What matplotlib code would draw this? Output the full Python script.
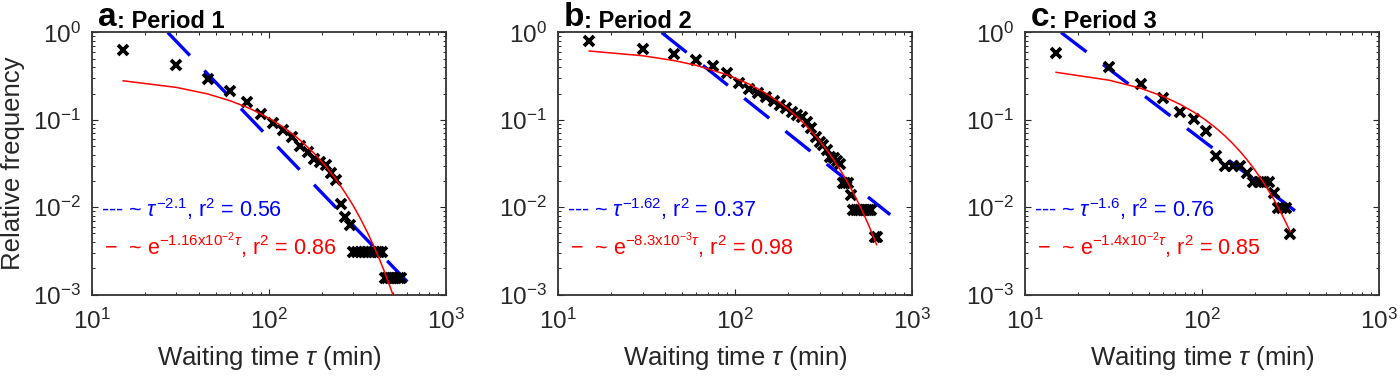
import matplotlib
matplotlib.use("Agg")
import matplotlib.pyplot as plt
from matplotlib.ticker import LogLocator, NullFormatter

plt.rcParams['font.family'] = ['Liberation Sans', 'DejaVu Sans']
plt.rcParams['mathtext.fontset'] = 'custom'
plt.rcParams['mathtext.rm'] = 'Liberation Sans'
plt.rcParams['mathtext.it'] = 'Liberation Sans:italic'
plt.rcParams['mathtext.bf'] = 'Liberation Sans:bold'
plt.rcParams['lines.scale_dashes'] = False

# ---- datos ----
# Periodo 1
p1_t = [15, 30, 45, 60, 75, 90, 105, 120, 135, 150, 165, 180, 195, 210, 225, 240,
        255, 270, 285,
        300, 315, 330, 345, 360, 375, 390, 405, 420, 435,
        450, 465, 480, 495, 510, 525, 540, 555]
p1_f = [0.63, 0.42, 0.295, 0.215, 0.161, 0.118, 0.093, 0.077, 0.064, 0.0505, 0.043,
        0.0352, 0.0326, 0.0303, 0.0244, 0.0204, 0.0109, 0.0078, 0.0063,
        0.0031, 0.0031, 0.0031, 0.0031, 0.0031, 0.0031, 0.0031, 0.0031, 0.0031, 0.0031,
        0.00155, 0.00155, 0.00155, 0.00155, 0.00155, 0.00155, 0.00155, 0.00155]
p1_pow_t = [26.8, 604]
p1_pow_f = [1.0, 0.0014]
p1_exp_t = [15, 30, 45, 60, 75, 90, 105, 120, 135, 150, 180, 210, 240, 270, 300,
            330, 360, 390, 420, 450, 480, 510, 540]
p1_exp_f = [0.280, 0.235, 0.198, 0.166, 0.1395, 0.117, 0.0985, 0.0828, 0.0696, 0.0584,
            0.0413, 0.0291, 0.0206, 0.0145, 0.0103, 0.00725, 0.00512, 0.00361, 0.00255,
            0.00180, 0.00127, 0.00090, 0.00063]

# Periodo 2
p2_t = [15, 30, 45, 60, 75, 90, 105, 120, 135, 150, 165, 180, 195, 210, 225, 240,
        255, 270, 285, 300, 315, 330, 345, 360, 375, 390,
        405, 420, 435, 450,
        465, 480, 495, 510, 525, 540, 555, 570, 585,
        615, 630]
p2_f = [0.80, 0.64, 0.56, 0.485, 0.415, 0.345, 0.267, 0.224, 0.201, 0.181, 0.166,
        0.148, 0.136, 0.124, 0.115, 0.107, 0.095, 0.080, 0.064, 0.056, 0.052, 0.045,
        0.038, 0.037, 0.034, 0.031,
        0.0188, 0.0188, 0.0188, 0.0138,
        0.0092, 0.0092, 0.0092, 0.0092, 0.0092, 0.0092, 0.0092, 0.0092, 0.0092,
        0.0046, 0.0046]
p2_pow_t = [38.5, 752]
p2_pow_f = [1.0, 0.0082]
p2_exp_t = [15, 30, 45, 60, 90, 120, 150, 180, 210, 240, 270, 300, 330, 360, 390,
            420, 450, 480, 510, 540, 570, 600, 630]
p2_exp_f = [0.614, 0.542, 0.478, 0.422, 0.329, 0.257, 0.200, 0.156, 0.1216, 0.0948,
            0.0739, 0.0576, 0.0449, 0.0350, 0.0273, 0.0213, 0.0166, 0.0129, 0.0101,
            0.00786, 0.00613, 0.00477, 0.00373]

# Periodo 3
p3_t = [15, 30, 45, 60, 75, 90, 105, 120, 135, 150, 165, 180, 195, 210, 225, 240,
        255, 270, 285, 300, 315]
p3_f = [0.59, 0.40, 0.256, 0.177, 0.123, 0.103, 0.074, 0.039, 0.0296, 0.0296, 0.0296,
        0.0245, 0.0196, 0.0196, 0.0196, 0.0196, 0.0147, 0.0098, 0.0098, 0.0098, 0.0049]
p3_pow_t = [16.0, 335]
p3_pow_f = [1.0, 0.0091]
p3_exp_t = [15, 30, 45, 60, 75, 90, 105, 120, 135, 150, 165, 180, 195, 210, 225, 240,
            255, 270, 285, 300, 315]
p3_exp_f = [0.350, 0.284, 0.230, 0.1865, 0.151, 0.1225, 0.0993, 0.0805, 0.0653, 0.0529,
            0.0429, 0.0348, 0.0282, 0.0228, 0.0185, 0.0150, 0.0122, 0.00986, 0.0080,
            0.00648, 0.00525]

letras = ['a', 'b', 'c']
titulos = [': Period 1', ': Period 2', ': Period 3']
txt_pow = [r'--- ~ $\tau^{-2.1}$, r$^2$ = 0.56',
           r'--- ~ $\tau^{-1.62}$, r$^2$ = 0.37',
           r'--- ~ $\tau^{-1.6}$, r$^2$ = 0.76']
txt_exp = ['\u2212  ~ e$^{-1.16\\mathrm{x}10^{-2}\\tau}$, r$^2$ = 0.86',
           '\u2212  ~ e$^{-8.3\\mathrm{x}10^{-3}\\tau}$, r$^2$ = 0.98',
           '\u2212  ~ e$^{-1.4\\mathrm{x}10^{-2}\\tau}$, r$^2$ = 0.85']

datos = [(p1_t, p1_f, p1_pow_t, p1_pow_f, p1_exp_t, p1_exp_f),
         (p2_t, p2_f, p2_pow_t, p2_pow_f, p2_exp_t, p2_exp_f),
         (p3_t, p3_f, p3_pow_t, p3_pow_f, p3_exp_t, p3_exp_f)]

gris = '#262626'
fig = plt.figure(figsize=(14, 3.77), dpi=100)
lefts = [0.0657, 0.3986, 0.7321]

for i, (t, f, pt, pf, et, ef) in enumerate(datos):
    ax = fig.add_axes([lefts[i], 0.2188, 0.2529, 0.695])
    ax.set_xscale('log')
    ax.set_yscale('log')

    ax.plot(t, f, linestyle='none', marker='x', color='k', markersize=7.5, markeredgewidth=2.7,
            zorder=3)
    ax.plot(pt, pf, color='#0000ff', linewidth=2.4, dashes=(23, 15), zorder=2)
    ax.plot(et, ef, color='#ff0000', linewidth=1.1, zorder=4)

    ax.set_xlim(10, 1000)
    ax.set_ylim(1e-3, 1)
    ax.xaxis.set_major_locator(LogLocator(base=10, numticks=5))
    ax.yaxis.set_major_locator(LogLocator(base=10, numticks=5))
    ax.xaxis.set_minor_locator(LogLocator(base=10, subs=range(2, 10), numticks=20))
    ax.yaxis.set_minor_locator(LogLocator(base=10, subs=range(2, 10), numticks=20))
    ax.xaxis.set_minor_formatter(NullFormatter())
    ax.yaxis.set_minor_formatter(NullFormatter())

    ax.tick_params(which='both', direction='in', top=True, right=True, colors=gris,
                   labelsize=17.5)
    ax.tick_params(which='major', length=4, width=0.8)
    ax.tick_params(which='minor', length=2.5, width=0.7)
    ax.tick_params(axis='x', pad=10)
    ax.tick_params(axis='y', pad=8)
    for s in ax.spines.values():
        s.set_color('#333333')
        s.set_linewidth(1.3)

    ax.set_xlabel(r'Waiting time $\tau$ (min)', fontsize=18.5, color=gris)
    ax.xaxis.set_label_coords(0.5, -0.19)
    if i == 0:
        ax.set_ylabel('Relative frequency', fontsize=18.5, color=gris)
        ax.yaxis.set_label_coords(-0.19, 0.5)

    ax.text(0.025, 0.295, txt_pow[i], color='#0000ff', fontsize=15.5,
            transform=ax.transAxes, va='baseline')
    ax.text(0.035, 0.155, txt_exp[i], color='#ff0000', fontsize=15.5,
            transform=ax.transAxes, va='baseline')

    letra = ax.text(0.017, 1.025, letras[i], fontsize=24, fontweight='bold',
                    transform=ax.transAxes, va='baseline')
    ax.annotate(titulos[i], xy=(1, 0), xycoords=letra, va='bottom', ha='left',
                fontsize=17, fontweight='bold')

fig.savefig('out.png', dpi=100)
